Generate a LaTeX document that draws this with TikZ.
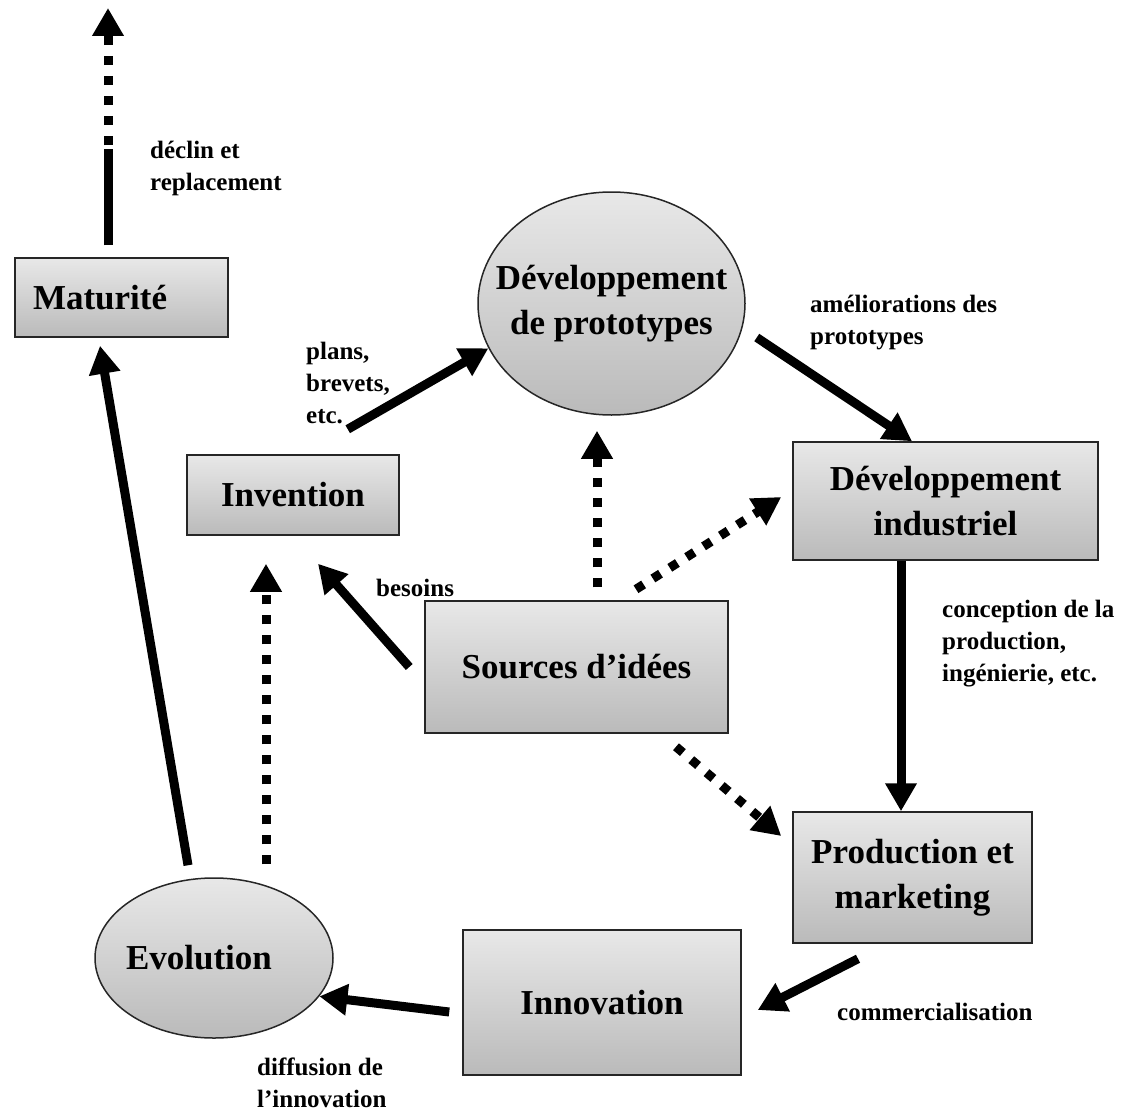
\documentclass[tikz,border=0pt]{standalone}
\usepackage{fontspec}
\setmainfont{Liberation Serif}
\usetikzlibrary{shapes.geometric,arrows.meta,calc}
\tikzstyle{boite} = [rectangle, draw=black!85, line width=1.5pt, top color=black!9, bottom color=black!27, inner sep=0pt, align=center, font=\fontsize{35}{45}\selectfont\bfseries]
\tikzstyle{bulle} = [boite, ellipse, inner xsep=-40pt]
\tikzstyle{etiq} = [inner sep=0pt, anchor=west, align=left, font=\fontsize{25}{32}\selectfont\bfseries]
\tikzstyle{fleche} = [line width=9pt, -{Triangle[width=30pt,length=28pt]}]
\tikzstyle{tirets} = [fleche, dash pattern=on 9pt off 11pt]

\begin{document}
\begin{tikzpicture}[x=1pt, y=-1pt]
    \useasboundingbox (0,0) rectangle (1129,1113);
    % étapes du cycle
    \node[boite, minimum width=213pt, minimum height=79pt, text width=177pt, align=left] (mat) at (121.5,297.5) {Maturité};
    \node[boite, minimum width=212pt, minimum height=80pt] (inv) at (293,495) {Invention};
    \node[bulle, minimum width=267pt, minimum height=223pt] (proto) at (611.5,303.5) {Développement\\de prototypes};
    \node[boite, minimum width=305pt, minimum height=118pt] (ind) at (945.5,501) {Développement\\industriel};
    \node[boite, minimum width=303pt, minimum height=132pt] (src) at (576.5,667) {Sources d’idées};
    \node[boite, minimum width=239pt, minimum height=131pt] (prod) at (912.5,877.5) {Production et\\marketing};
    \node[boite, minimum width=278pt, minimum height=145pt] (innov) at (602,1002.5) {Innovation};
    \node[bulle, minimum width=238pt, minimum height=160pt, text width=176pt, align=left] (evo) at (214,958) {Evolution};

    % étiquettes
    \node[etiq] (l1) at (150,168) {déclin et\\replacement};
    \node[etiq] (l2) at (306,383) {plans,\\brevets,\\etc.};
    \node[etiq] (l3) at (376,588) {besoins};
    \node[etiq] (l4) at (810,323) {améliorations des\\prototypes};
    \node[etiq] (l5) at (942,644) {conception de la\\production,\\ingénierie, etc.};
    \node[etiq] (l6) at (837,1012) {commercialisation};
    \node[etiq] (l7) at (257,1083) {diffusion de\\l’innovation};

    % déclin
    \coordinate (haut) at (108,8);
    \draw[line width=9pt] ($(mat.north)+(-13.5,-12)$) -- ++(0,-96) coordinate (rupt);
    \draw[tirets] ($(rupt)+(0,-4)$) -- (haut);

    % flèches pleines
    \draw[fleche] ($(evo.north)+(-26,-12)$) -- ($(mat.south)+(-21.5,8)$);
    \draw[fleche] ($(src.west)+(-15,0)$) -- ($(inv.south)+(25,28)$);
    \draw[fleche] ($(inv.north east)+(-52,-25)$) -- (proto.200);
    \draw[fleche] ($(proto.east)+(11,34)$) -- ($(ind.north)+(-33.5,0)$);
    \draw[fleche] ($(ind.south)+(-44.5,0)$) -- ($(prod.north)+(-11.5,0)$);
    \draw[fleche] ($(prod.south)+(-54.5,15)$) -- ($(innov.east)+(16,7.5)$);
    \draw[fleche] ($(innov.west)+(-13,9.5)$) -- (evo.-20);

    % flèches pointillées
    \draw[tirets] ($(evo.north)+(52,-13)$) -- ($(inv.south)+(-27,28)$);
    \draw[tirets] ($(src.north)+(20.5,-13)$) -- ($(proto.south)+(-14.5,15)$);
    \draw[tirets] ($(src.north)+(59.5,-11)$) -- ($(ind.west)+(-11,-4)$);
    \draw[tirets] ($(src.south)+(99.5,13)$) -- ($(prod.west)+(-11,-41.5)$);
\end{tikzpicture}
\end{document}
